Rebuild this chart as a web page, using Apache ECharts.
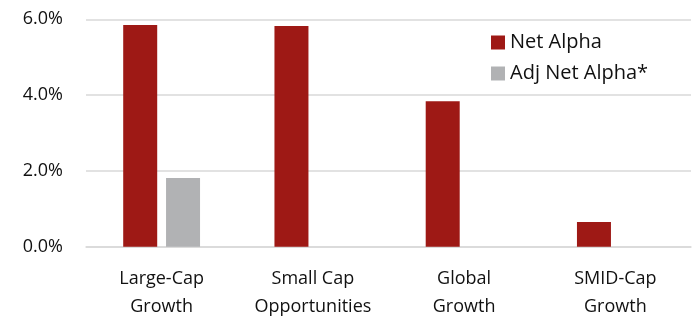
<!DOCTYPE html>
<html>
<head>
<meta charset="utf-8">
<script src="https://cdn.jsdelivr.net/npm/echarts@6/dist/echarts.min.js"></script>
<style>
  html, body { margin: 0; padding: 0; background: #fff; }
  #chart { width: 693px; height: 321px; }
</style>
</head>
<body>
<div id="chart"></div>
<script>
// values
const categories = ['Large-Cap\nGrowth', 'Small Cap\nOpportunities', 'Global\nGrowth', 'SMID-Cap\nGrowth'];
const netAlpha = [5.85, 5.82, 3.84, 0.65];
const adjNetAlpha = [1.81, null, null, null];
const seriesNames = ['Net Alpha', 'Adj Net Alpha*'];

const font = '"Open Sans", "Noto Sans", sans-serif';
const textColor = '#111';
const gridColor = '#d9d9d9';

let chart = echarts.init(document.getElementById('chart'));

chart.setOption({
  animation: false,
  color: ['#9e1915', '#b1b2b4'],
  grid: { left: 86, right: 2, top: 19.3, bottom: 74.3 },
  legend: {
    orient: 'vertical',
    left: 486,
    top: 27.5,
    itemWidth: 14,
    itemHeight: 14,
    itemGap: 11,
    icon: 'rect',
    data: seriesNames,
    textStyle: { fontFamily: font, fontSize: 20, color: textColor, lineHeight: 20 }
  },
  xAxis: {
    type: 'category',
    data: categories,
    axisLine: { lineStyle: { color: gridColor, width: 1.5 } },
    axisTick: { show: false },
    axisLabel: {
      interval: 0,
      margin: 18,
      fontFamily: font,
      fontSize: 18,
      lineHeight: 28,
      color: textColor
    }
  },
  yAxis: {
    type: 'value',
    min: 0,
    max: 6,
    interval: 2,
    axisLine: { show: false },
    axisTick: { show: false },
    splitLine: { lineStyle: { color: gridColor, width: 1.5 } },
    axisLabel: {
      margin: 23,
      fontFamily: font,
      fontSize: 18,
      color: textColor,
      formatter: v => v.toFixed(1) + '%'
    }
  },
  series: [
    { name: seriesNames[0], type: 'bar', data: netAlpha, barWidth: 34, barGap: '26%' },
    { name: seriesNames[1], type: 'bar', data: adjNetAlpha, barWidth: 34, barGap: '26%' }
  ]
});
</script>
</body>
</html>
